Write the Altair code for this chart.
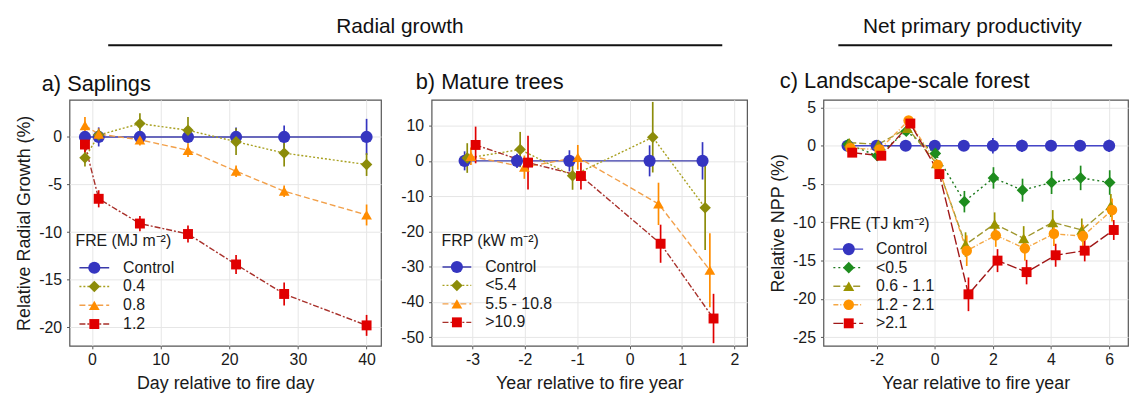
import altair as alt
import pandas as pd

FONT = "Liberation Sans"

# ---------------- Panel a: Saplings ----------------
a_days = [-1, 1, 7, 14, 21, 28, 40]
a_series = ["Control", "0.4", "0.8", "1.2"]
a_control = [0, 0, 0, 0, 0, 0, 0]
a_control_err = [0.4, 1.0, 0.3, 0.3, 1.0, 1.2, 1.9]
a_fre04 = [-2.2, 0.2, 1.4, 0.7, -0.5, -1.7, -2.9]
a_fre04_err = [0.9, 0.5, 1.1, 1.4, 1.4, 1.4, 1.2]
a_fre08 = [1.2, 0.3, -0.3, -1.4, -3.6, -5.7, -8.2]
a_fre08_err = [0.9, 0.6, 0.6, 0.7, 0.6, 0.6, 1.1]
a_fre12 = [-0.8, -6.5, -9.1, -10.2, -13.4, -16.5, -19.8]
a_fre12_err = [0.8, 0.9, 0.8, 0.9, 1.0, 1.2, 1.1]

# ---------------- Panel b: Mature trees ----------------
b_series = ["Control", "<5.4", "5.5 - 10.8", ">10.9"]
b_control_x = [-3.15, -2.15, -1.15, 0.38, 1.39]
b_control = [0, 0, 0, 0, 0]
b_control_err = [2.7, 2.0, 3.0, 4.4, 5.3]
b_low_x = [-3.1, -2.09, -1.09, 0.44, 1.44]
b_low = [0.8, 3.2, -4.2, 6.7, -13.3]
b_low_err = [4.2, 5.0, 4.0, 10.0, 12.0]
b_mid_x = [-3.03, -2.01, -0.99, 0.55, 1.53]
b_mid = [1.3, -1.8, 1.0, -12.2, -31.0]
b_mid_err = [2.5, 3.3, 3.5, 6.0, 10.5]
b_high_x = [-2.94, -1.94, -0.93, 0.59, 1.6]
b_high = [4.5, -0.5, -4.3, -23.5, -44.7]
b_high_err = [5.2, 7.6, 3.8, 5.4, 7.0]

# ---------------- Panel c: Landscape-scale forest ----------------
c_years = [-3, -2, -1, 0, 1, 2, 3, 4, 5, 6]
c_series = ["Control", "<0.5", "0.6 - 1.1", "1.2 - 2.1", ">2.1"]
c_dodge = [0.0, 0.02, 0.06, 0.1, 0.16]
c_control = [0, 0, 0, 0, 0, 0, 0, 0, 0, 0]
c_control_err = [0.2, 0.2, 0.2, 0.3, 0.4, 1.0, 0.8, 0.6, 0.7, 0.8]
c_low = [0.2, -1.3, 1.9, -1.0, -7.3, -4.2, -5.8, -4.8, -4.2, -4.8]
c_low_err = [0.3, 0.4, 0.4, 0.4, 1.4, 1.4, 1.5, 1.5, 1.6, 1.6]
c_mid1 = [0.4, 0.2, 2.3, -2.3, -12.9, -10.2, -12.1, -10.0, -11.0, -7.8]
c_mid1_err = [0.3, 0.4, 0.5, 0.5, 1.6, 1.5, 1.6, 1.6, 1.5, 1.5]
c_mid2 = [-0.3, -0.5, 3.3, -2.5, -13.7, -11.7, -13.4, -11.5, -11.8, -8.4]
c_mid2_err = [0.3, 0.4, 0.5, 0.5, 2.0, 1.5, 1.6, 1.6, 1.5, 1.5]
c_high = [-0.9, -1.3, 2.9, -3.7, -19.4, -15.0, -16.5, -14.3, -13.7, -11.0]
c_high_err = [0.3, 0.4, 0.5, 0.6, 2.2, 1.5, 1.6, 1.5, 1.4, 1.3]


def long_df(series, xs, ys, errs):
    rows = []
    for s, xv, yv, ev in zip(series, xs, ys, errs):
        for x, y, e in zip(xv, yv, ev):
            rows.append({"s": s, "x": x, "y": y, "lo": y - e, "hi": y + e})
    return pd.DataFrame(rows)


df_a = long_df(a_series, [a_days] * 4,
               [a_control, a_fre04, a_fre08, a_fre12],
               [a_control_err, a_fre04_err, a_fre08_err, a_fre12_err])
df_b = long_df(b_series, [b_control_x, b_low_x, b_mid_x, b_high_x],
               [b_control, b_low, b_mid, b_high],
               [b_control_err, b_low_err, b_mid_err, b_high_err])
df_c = long_df(c_series, [[y + d for y in c_years] for d in c_dodge],
               [c_control, c_low, c_mid1, c_mid2, c_high],
               [c_control_err, c_low_err, c_mid1_err, c_mid2_err, c_high_err])

LABEL_EXPR = "replace(datum.label, '\u2212', '-')"


def one(text):
    return pd.DataFrame({"t": [text]})


def panel(df, series, pt_colors, ln_colors, dashes, shapes, sizes,
          xdom, ydom, xticks, yticks, xtitle, ytitle, w, h,
          leg_title, leg_title_pos, leg_row0, leg_step, seg, mark_x, lab_x,
          title, title_pos, extras):
    fill_s = alt.Scale(domain=series, range=pt_colors)
    line_s = alt.Scale(domain=series, range=ln_colors)
    dash_s = alt.Scale(domain=series, range=dashes)
    shape_s = alt.Scale(domain=series, range=shapes)
    size_s = alt.Scale(domain=series, range=sizes)
    xsc = alt.Scale(domain=xdom, nice=False, zero=False)
    ysc = alt.Scale(domain=ydom, nice=False, zero=False)
    yaxis_kw = dict(values=yticks, labelExpr=LABEL_EXPR)
    yaxis_kw["title"] = ytitle if ytitle else None
    ax_x = alt.Axis(values=xticks, title=xtitle, labelExpr=LABEL_EXPR)
    ax_y = alt.Axis(**yaxis_kw)

    def X(f):
        return alt.X(f, type="quantitative", scale=xsc, axis=ax_x)

    def Y(f):
        return alt.Y(f, type="quantitative", scale=ysc, axis=ax_y)

    base = alt.Chart(df)
    lines = base.mark_line(strokeWidth=1.4).encode(
        x=X("x"), y=Y("y"),
        stroke=alt.Stroke("s:N", scale=line_s, legend=None),
        strokeDash=alt.StrokeDash("s:N", scale=dash_s, legend=None),
        detail="s:N", order="x:Q")
    errs = base.mark_rule(strokeWidth=1.7).encode(
        x=X("x"), y=Y("lo"), y2="hi",
        color=alt.Color("s:N", scale=fill_s, legend=None))
    pts = base.mark_point(filled=True, opacity=1, strokeWidth=0).encode(
        x=X("x"), y=Y("y"),
        fill=alt.Fill("s:N", scale=fill_s, legend=None),
        shape=alt.Shape("s:N", scale=shape_s, legend=None),
        size=alt.Size("s:N", scale=size_s, legend=None))

    def px2x(p):
        return xdom[0] + p / w * (xdom[1] - xdom[0])

    def py2y(p):
        return ydom[1] - p / h * (ydom[1] - ydom[0])

    leg = pd.DataFrame({
        "s": series,
        "x1": [px2x(seg[0])] * len(series),
        "x2": [px2x(seg[1])] * len(series),
        "xm": [px2x(mark_x)] * len(series),
        "xt": [px2x(lab_x)] * len(series),
        "y": [py2y(leg_row0 + i * leg_step) for i in range(len(series))],
    })
    lbase = alt.Chart(leg)
    l_rule = lbase.mark_rule(strokeWidth=1.4).encode(
        x=X("x1"), x2="x2", y=Y("y"),
        stroke=alt.Stroke("s:N", scale=line_s, legend=None),
        strokeDash=alt.StrokeDash("s:N", scale=dash_s, legend=None))
    l_pts = lbase.mark_point(filled=True, opacity=1, strokeWidth=0).encode(
        x=X("xm"), y=Y("y"),
        fill=alt.Fill("s:N", scale=fill_s, legend=None),
        shape=alt.Shape("s:N", scale=shape_s, legend=None),
        size=alt.Size("s:N", scale=size_s, legend=None))
    l_txt = lbase.mark_text(align="left", baseline="middle", fontSize=16,
                            color="#1a1a1a").encode(
        x=X("xt"), y=Y("y"), text="s:N")
    l_title = alt.Chart(one(leg_title)).mark_text(
        align="left", baseline="alphabetic", fontSize=16, color="#1a1a1a").encode(
        x=alt.value(leg_title_pos[0]), y=alt.value(leg_title_pos[1]), text="t:N")
    p_title = alt.Chart(one(title)).mark_text(
        align="left", baseline="alphabetic", fontSize=22, color="#111").encode(
        x=alt.value(title_pos[0]), y=alt.value(title_pos[1]), text="t:N")

    layers = [lines, errs, pts, l_rule, l_pts, l_txt, l_title, p_title] + extras
    return alt.layer(*layers).properties(width=w, height=h)


def header(text, cx, by, x1, x2, ry):
    t = alt.Chart(one(text)).mark_text(
        align="center", baseline="alphabetic", fontSize=21, color="#111").encode(
        x=alt.value(cx), y=alt.value(by), text="t:N")
    r = alt.Chart(one(text)).mark_rule(strokeWidth=2, color="#111").encode(
        x=alt.value(x1), x2=alt.value(x2), y=alt.value(ry))
    return [t, r]


H = 248
SOLID, DOT, DASH, DASHDOT, LONGDASH = [1, 0], [2, 2], [6, 3], [6, 2, 2, 2], [10, 3]

pa = panel(
    df_a, a_series,
    ["#3535C0", "#8C8C0A", "#FF8C00", "#E00000"],
    ["#3A3AAA", "#A8A020", "#F2A04A", "#A8302A"],
    [SOLID, DOT, DASH, DASHDOT],
    ["circle", "diamond", "triangle-up", "square"],
    [150, 100, 220, 180],
    [-3.25, 42.1], [-21.95, 3.9], [0, 10, 20, 30, 40], [0, -5, -10, -15, -20],
    "Day relative to fire day", "Relative Radial Growth (%)", 314, H,
    "FRE (MJ m\u207b\u00b2)", (6, 147), 169.3, 18.9, (10, 40), 25, 54,
    "a) Saplings", (-28, -9),
    header("Radial growth", 333, -67, 39, 658, -55))

pb = panel(
    df_b, b_series,
    ["#3535C0", "#8C8C0A", "#FF8C00", "#E00000"],
    ["#3A3AAA", "#A8A020", "#F2A04A", "#A8302A"],
    [SOLID, DOT, DASH, DASHDOT],
    ["circle", "diamond", "triangle-up", "square"],
    [150, 100, 220, 180],
    [-3.78, 2.24], [-52.45, 17.3], [-3, -2, -1, 0, 1, 2], [10, 0, -10, -20, -30, -40, -50],
    "Year relative to fire year", None, 318, H,
    "FRP (kW m\u207b\u00b2)", (10, 147), 168.5, 18.6, (11, 40), 25.5, 54,
    "b) Mature trees", (-16, -11), [])

pc = panel(
    df_c, c_series,
    ["#3535C0", "#1E8C1E", "#9A9400", "#FF9400", "#E00000"],
    ["#4545C8", "#1E7A1E", "#A09830", "#F5A845", "#A01818"],
    [SOLID, [2, 3], [7, 3], [5, 2, 1, 2], LONGDASH],
    ["circle", "diamond", "triangle-up", "circle", "square"],
    [150, 100, 200, 170, 180],
    [-3.83, 6.65], [-26.13, 6.0], [-2, 0, 2, 4, 6], [5, 0, -5, -10, -15, -20, -25],
    "Year relative to fire year", "Relative NPP (%)", 307, H,
    "FRE (TJ km\u207b\u00b2)", (6, 130), 150.5, 18.7, (10, 40), 25.5, 53,
    "c) Landscape-scale forest", (-44, -12),
    header("Net primary productivity", 150, -67, 15, 291, -55))


def spacer(w):
    return alt.Chart(one("")).mark_point(opacity=0).encode(
        x=alt.value(0), y=alt.value(0)).properties(
        width=w, height=H, view=alt.ViewBackground(strokeOpacity=0))


chart = alt.hconcat(pa, spacer(51), pb, spacer(77), pc, spacing=0, bounds="flush").resolve_scale(
    color="independent", fill="independent", stroke="independent",
    strokeDash="independent", shape="independent", size="independent"
).properties(
    padding={"left": 7, "top": 6, "right": 0, "bottom": 0}
).configure(font=FONT).configure_view(
    stroke="#555555", strokeWidth=1.2
).configure_axis(
    domain=False, grid=True, gridColor="#E6E6E6", gridWidth=1,
    tickColor="#555555", tickSize=3,
    labelFont=FONT, labelFontSize=16, labelColor="#1a1a1a",
    titleFont=FONT, titleFontSize=18, titleFontWeight="normal", titleColor="#1a1a1a"
).configure_axisX(labelPadding=3, titlePadding=7).configure_axisY(labelPadding=5, titlePadding=5)

chart.save("out.html", embed_options={"renderer": "svg", "actions": False})
